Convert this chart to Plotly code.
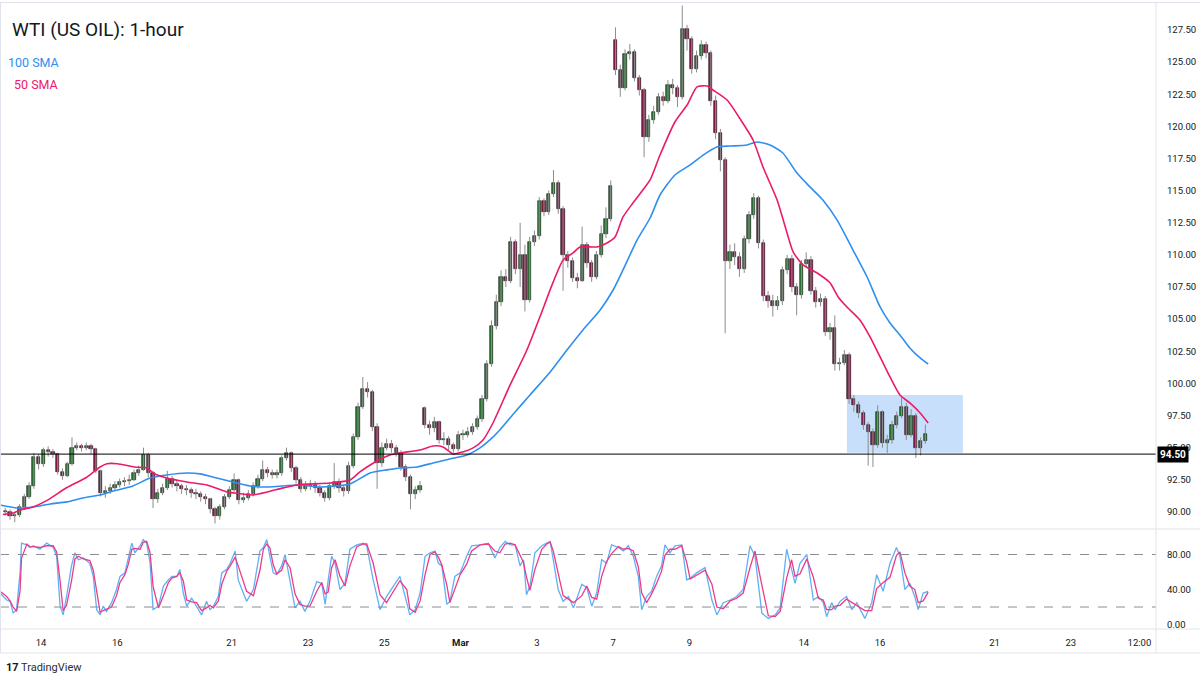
import plotly.graph_objects as go

# ---------------- DATA ----------------
# 3-hour candles, 8 per trading day; trading-day index: Feb 14 = 0, weekends removed
first_open = 90.1
gap_opens = {88: 98.1, 128: 126.7}  # weekend gap opens (Feb 28, Mar 7)

closes = [
    90.0, 89.7, 89.8, 90.4, 91.2, 92.0, 94.3, 93.7,          # Feb 11
    94.8, 94.7, 94.5, 93.1, 92.8, 93.7, 95.0, 95.1,          # Feb 14
    95.0, 95.1, 94.9, 93.2, 91.5, 91.6, 91.9, 92.1,          # Feb 15
    92.3, 92.4, 92.5, 93.0, 93.3, 94.4, 93.0, 91.0,          # Feb 16
    91.5, 91.9, 92.6, 92.2, 92.0, 91.8, 91.7, 91.5,          # Feb 17
    91.4, 91.2, 91.0, 90.2, 89.7, 90.4, 91.2, 91.7,          # Feb 18
    92.5, 90.9, 91.1, 91.4, 92.0, 92.6, 93.3, 93.0,          # Feb 21
    92.9, 93.0, 94.2, 94.6, 93.4, 92.5, 91.8, 92.0,          # Feb 22
    92.1, 91.9, 91.5, 91.1, 92.0, 92.3, 91.9, 91.6,          # Feb 23
    93.6, 95.8, 98.2, 99.6, 99.3, 96.6, 93.8, 95.0,          # Feb 24
    95.3, 95.0, 94.6, 93.5, 92.7, 91.4, 91.7, 92.0,          # Feb 25
    96.8, 96.5, 97.0, 95.6, 95.7, 95.2, 94.9, 96.0,          # Feb 28
    96.0, 96.2, 96.6, 97.2, 98.8, 101.5, 104.5, 106.3,       # Mar 1
    108.3, 108.0, 111.0, 108.9, 110.0, 106.5, 111.0, 111.5,  # Mar 2
    114.2, 113.3, 114.7, 115.6, 113.6, 110.0, 109.5, 108.2,  # Mar 3
    108.0, 110.8, 109.4, 108.3, 110.0, 111.6, 112.8, 115.4,  # Mar 4
    124.4, 123.0, 125.6, 125.8, 123.8, 122.8, 119.2, 120.5,  # Mar 7
    121.1, 122.3, 122.0, 123.2, 123.0, 122.3, 127.6, 126.8,  # Mar 8
    124.5, 125.5, 126.3, 125.7, 122.0, 119.5, 117.4, 109.5,  # Mar 9
    110.2, 109.8, 108.9, 111.2, 113.1, 114.4, 110.9, 106.8,  # Mar 10
    106.4, 106.0, 106.4, 108.8, 109.7, 107.5, 106.9, 109.3,  # Mar 11
    109.6, 107.2, 106.3, 106.6, 104.0, 104.3, 101.5, 101.6,  # Mar 14
    102.2, 98.8, 98.3, 97.7, 96.8, 96.2, 95.2, 97.8,         # Mar 15
    95.4, 95.6, 96.8, 97.5, 98.2, 96.0, 97.5, 95.0,          # Mar 16
    95.5, 96.1,                                              # Mar 17
]
highs = [
    90.3, 90.2, 90.0, 90.6, 91.4, 92.3, 94.6, 94.5,
    95.0, 95.1, 94.9, 94.6, 93.4, 93.9, 95.8, 95.4,
    95.3, 95.4, 95.3, 95.0, 93.3, 92.0, 92.2, 92.4,
    92.6, 92.7, 92.9, 93.3, 93.6, 95.0, 94.6, 93.2,
    91.8, 92.2, 93.2, 92.8, 92.5, 92.2, 92.1, 91.9,
    91.8, 91.6, 91.4, 91.1, 90.4, 90.6, 91.4, 92.0,
    93.0, 92.6, 91.5, 91.7, 92.3, 92.9, 94.0, 93.5,
    93.3, 93.3, 94.4, 95.0, 94.7, 93.6, 92.7, 92.4,
    92.5, 92.4, 92.1, 91.7, 92.3, 93.8, 92.6, 92.1,
    93.9, 96.1, 98.5, 100.5, 100.1, 99.5, 96.9, 95.4,
    95.7, 95.6, 95.2, 94.8, 93.7, 92.9, 92.0, 92.4,
    98.2, 97.1, 97.4, 97.1, 96.2, 95.9, 95.4, 96.3,
    96.4, 96.6, 96.9, 97.5, 99.1, 101.8, 104.9, 106.9,
    108.8, 108.9, 111.4, 111.2, 112.5, 110.8, 111.4, 111.9,
    114.5, 114.4, 115.0, 116.6, 115.8, 113.8, 110.3, 109.8,
    108.6, 112.2, 111.0, 109.6, 110.3, 112.3, 113.7, 115.8,
    127.7, 124.8, 126.0, 126.4, 126.0, 124.0, 123.0, 120.9,
    121.6, 122.6, 122.7, 123.6, 123.7, 123.2, 129.4, 127.9,
    127.0, 125.9, 126.7, 126.6, 125.9, 122.4, 119.8, 117.6,
    110.8, 110.9, 110.2, 111.5, 113.4, 114.8, 114.6, 111.2,
    107.2, 106.9, 106.8, 109.1, 110.0, 110.0, 107.8, 109.6,
    110.2, 109.9, 107.5, 107.0, 106.8, 104.7, 105.3, 102.0,
    102.6, 102.4, 99.1, 98.6, 97.9, 97.0, 96.5, 98.3,
    97.9, 96.0, 97.1, 97.8, 98.9, 98.5, 98.0, 97.7,
    95.8, 96.8,
]
lows = [
    89.7, 89.4, 89.2, 89.6, 90.2, 91.0, 91.8, 93.3,
    93.5, 94.3, 94.2, 92.9, 92.5, 92.7, 93.6, 94.8,
    94.7, 94.8, 94.5, 93.0, 91.2, 91.1, 91.4, 91.7,
    91.9, 92.0, 92.1, 92.4, 92.8, 93.2, 92.7, 90.3,
    90.7, 91.3, 91.7, 91.9, 91.6, 91.4, 91.3, 91.1,
    91.0, 90.8, 90.6, 89.9, 89.1, 89.4, 90.2, 91.0,
    91.5, 90.6, 90.7, 90.9, 91.2, 91.8, 92.4, 92.7,
    92.6, 92.6, 92.8, 94.0, 93.1, 92.2, 91.5, 91.6,
    91.7, 91.5, 91.2, 90.8, 90.9, 91.8, 91.5, 91.2,
    91.4, 93.4, 95.6, 98.0, 98.9, 96.3, 91.8, 93.5,
    94.8, 94.6, 94.3, 93.2, 92.4, 90.2, 91.0, 91.5,
    96.5, 96.0, 96.2, 95.3, 95.2, 94.8, 94.6, 94.7,
    95.6, 95.8, 96.0, 96.4, 97.0, 98.6, 101.3, 104.2,
    106.0, 107.5, 107.8, 108.5, 107.5, 105.6, 106.3, 110.7,
    111.2, 113.0, 113.1, 114.5, 113.2, 107.2, 109.0, 107.9,
    107.4, 107.9, 109.0, 107.9, 108.1, 109.8, 111.3, 112.6,
    124.0, 122.3, 122.8, 125.2, 123.5, 122.4, 117.6, 118.8,
    120.2, 120.9, 121.6, 121.8, 122.5, 121.5, 122.1, 125.9,
    124.1, 124.2, 125.2, 125.3, 121.6, 119.0, 116.5, 103.9,
    108.9, 109.2, 108.3, 108.6, 110.9, 112.8, 110.5, 106.4,
    105.9, 105.2, 105.7, 106.1, 108.5, 107.1, 105.3, 106.6,
    109.0, 106.9, 105.9, 106.0, 103.7, 103.4, 101.0, 101.0,
    101.4, 98.4, 97.8, 97.3, 96.4, 93.6, 93.5, 95.0,
    95.0, 94.6, 95.3, 96.5, 97.3, 95.6, 95.8, 94.2,
    94.4, 95.3,
]

sma50_t = [-1.00, -0.73, -0.55, -0.21, 0.16, 0.68, 1.20, 1.55, 1.73, 2.00, 2.45, 2.78, 2.94,
           3.30, 3.83, 4.35, 4.88, 5.03, 5.56, 5.93, 6.35, 6.71, 7.58, 8.10, 8.36, 8.76,
           9.15, 9.41, 9.94, 10.28, 10.54, 10.80, 11.06, 11.33, 11.59, 11.85, 12.03, 12.30,
           12.74, 13.08, 13.42, 13.69, 13.95, 14.13, 14.58, 14.84, 15.05, 15.26, 15.52,
           15.78, 15.97, 16.23, 16.62, 16.94, 17.20, 17.46, 17.62, 17.99, 18.33, 18.67,
           18.93, 19.30, 19.56, 19.72, 19.98, 20.35, 20.69, 20.90, 21.13, 21.47, 21.74,
           22.00, 22.26, 22.52, 22.78, 23.05, 23.26]
sma50_v = [89.80, 89.92, 90.15, 90.39, 90.90, 91.90, 92.70, 93.50, 93.75, 93.75, 93.50, 93.42, 93.03,
           92.64, 92.33, 92.10, 91.55, 91.48, 91.32, 91.55, 91.87, 92.10, 92.25, 92.49, 93.11, 93.89,
           94.43, 94.59, 94.82, 95.13, 95.06, 94.51, 94.67, 94.98, 95.60, 96.92, 98.09, 99.88,
           102.60, 105.17, 107.82, 109.61, 110.15, 110.62, 110.62, 110.93, 111.39, 112.95, 114.04,
           115.05, 115.83, 117.77, 120.34, 121.66, 123.07, 123.14, 122.83, 122.05, 120.58, 118.94,
           116.84, 114.27, 111.71, 110.23, 109.22, 108.59, 107.82, 106.73, 105.95, 104.94, 103.61,
           102.06, 100.50, 99.10, 98.48, 97.70, 96.92]

sma100_t = [-1.075, -0.63, -0.21, 0.24, 0.68, 1.10, 1.55, 1.81, 2.41, 2.86, 3.30, 3.83, 4.17,
            4.61, 5.03, 5.48, 5.93, 6.79, 7.32, 8.10, 8.63, 9.07, 9.41, 9.86, 10.28, 10.72,
            11.17, 11.51, 11.77, 12.03, 12.43, 12.82, 13.35, 13.79, 14.21, 14.66, 15.00, 15.26,
            15.63, 15.97, 16.23, 16.62, 17.02, 17.36, 17.72, 18.07, 18.51, 18.77, 19.11, 19.45,
            19.82, 20.16, 20.50, 20.87, 21.29, 21.66, 22.00, 22.26, 22.52, 22.78, 23.05, 23.26]
sma100_v = [90.54, 90.31, 90.39, 90.62, 90.78, 91.09, 91.32, 91.55, 92.02, 92.64, 92.88, 93.03, 92.96,
            92.64, 92.33, 92.02, 91.94, 92.10, 91.94, 92.18, 93.03, 93.27, 93.42, 93.50, 93.81, 94.12,
            94.43, 94.98, 95.60, 96.38, 97.78, 99.10, 100.89, 102.60, 104.16, 105.71, 107.27, 108.83,
            111.16, 112.87, 114.66, 116.22, 117.00, 117.77, 118.40, 118.47, 118.55, 118.79, 118.55, 117.93,
            116.37, 115.29, 114.27, 112.72, 110.38, 108.28, 105.95, 104.70, 103.77, 102.76, 101.98, 101.51]

stoch_t = [-1.075, -0.90, -0.81, -0.73, -0.64, -0.55, -0.51, -0.37, -0.29, -0.20, -0.03, 0.15, 0.32,
           0.41, 0.50, 0.58, 0.67, 0.80, 0.89, 0.98, 1.11, 1.28, 1.37, 1.46, 1.55, 1.63, 1.72, 1.85,
           1.98, 2.07, 2.20, 2.29, 2.38, 2.46, 2.60, 2.68, 2.77, 2.86, 2.94, 3.08, 3.21, 3.34, 3.43,
           3.56, 3.64, 3.73, 3.82, 3.95, 4.08, 4.21, 4.34, 4.43, 4.52, 4.65, 4.74, 4.87, 4.96, 5.09,
           5.17, 5.39, 5.57, 5.74, 5.83, 5.92, 6.00, 6.09, 6.18, 6.31, 6.40, 6.53, 6.66, 6.79, 6.92,
           7.05, 7.23, 7.36, 7.45, 7.53, 7.62, 7.71, 7.84, 7.97, 8.10, 8.28, 8.45, 8.54, 8.71, 8.89,
           9.06, 9.24, 9.41, 9.59, 9.67, 9.81, 9.94, 10.07, 10.20, 10.33, 10.42, 10.51, 10.64, 10.72,
           10.85, 10.99, 11.16, 11.29, 11.51, 11.73, 11.90, 12.03, 12.17, 12.30, 12.43, 12.56, 12.65,
           12.73, 12.82, 12.95, 13.13, 13.26, 13.35, 13.43, 13.56, 13.69, 13.83, 13.96, 14.18, 14.31,
           14.44, 14.57, 14.70, 14.83, 14.96, 15.14, 15.27, 15.40, 15.53, 15.66, 15.75, 15.88, 16.01,
           16.14, 16.27, 16.36, 16.49, 16.62, 16.80, 16.93, 17.02, 17.19, 17.41, 17.59, 17.72, 17.89,
           18.07, 18.24, 18.41, 18.59, 18.72, 18.90, 19.07, 19.25, 19.38, 19.55, 19.68, 19.77, 19.90,
           20.08, 20.25, 20.38, 20.51, 20.60, 20.73, 20.82, 20.95, 21.12, 21.26, 21.39, 21.60, 21.78,
           21.91, 22.08, 22.26, 22.43, 22.52, 22.65, 22.78, 22.91, 23.00, 23.13, 23.26]
stoch_k = [36, 28, 26.5, 13, 17, 59, 93, 91, 88, 90, 86, 93, 88,
           78, 21, 11, 32, 67, 82, 74, 76, 70, 55, 17, 11, 21, 15, 25,
           40, 55, 59, 78, 93, 82, 90, 97, 93, 70, 17, 21, 44, 51, 55,
           55, 63, 36, 21, 30, 21, 11, 26.5, 17, 21, 32, 59, 63, 70, 84,
           51, 26.5, 40, 84, 88, 97, 78, 59, 57, 67, 80, 51, 19, 26.5, 15,
           26.5, 49, 47, 23, 51, 78, 70, 40, 47, 86, 91, 93, 90, 51, 17,
           32, 44, 55, 25, 11, 17, 36, 78, 82, 84, 70, 67, 23, 26.5,
           55, 59, 78, 90, 91, 93, 76, 88, 95, 91, 91, 67, 74,
           34, 44, 82, 90, 93, 95, 74, 40, 26.5, 32, 19, 46, 42,
           21, 36, 74, 70, 91, 88, 84, 90, 78, 55, 17, 32, 38,
           55, 67, 91, 82, 90, 91, 51, 53, 59, 65, 28, 11, 25,
           28, 32, 40, 90, 78, 13, 7, 11, 19, 86, 63, 47, 70,
           80, 28, 32, 25, 9, 25, 17, 26.5, 32, 17, 25, 7, 25,
           57, 38, 70, 88, 78, 40, 47, 32, 17, 36, 38]
stoch_d = [38, 32, 27, 20, 15, 38, 76, 92, 89, 89, 88, 90, 90,
           83, 50, 16, 22, 50, 75, 78, 75, 73, 62, 36, 14, 16, 18, 20,
           33, 48, 57, 69, 86, 87, 86, 94, 95, 82, 43, 19, 33, 48, 53,
           55, 59, 50, 28, 26, 25, 16, 19, 22, 19, 27, 46, 61, 67, 77,
           67, 38, 33, 62, 86, 92, 88, 68, 58, 62, 74, 65, 35, 23, 21,
           21, 38, 48, 35, 37, 65, 74, 55, 44, 67, 89, 92, 92, 70, 34,
           25, 38, 50, 40, 18, 14, 27, 57, 80, 83, 77, 68, 45, 25,
           41, 57, 69, 84, 91, 92, 84, 82, 92, 93, 91, 79, 71,
           54, 39, 63, 86, 92, 94, 84, 57, 33, 29, 25, 33, 44,
           31, 29, 55, 72, 81, 89, 86, 87, 84, 66, 36, 25, 35,
           47, 61, 79, 86, 86, 90, 71, 52, 56, 62, 46, 20, 18,
           27, 30, 36, 65, 84, 45, 10, 9, 15, 53, 74, 55, 58,
           75, 54, 30, 28, 17, 17, 21, 22, 29, 25, 21, 16, 16,
           41, 48, 54, 79, 83, 59, 44, 40, 25, 27, 37]

price_ticks = [90.0, 92.5, 95.0, 97.5, 100.0, 102.5, 105.0, 107.5, 110.0, 112.5,
               115.0, 117.5, 120.0, 122.5, 125.0, 127.5]
stoch_ticks = [0, 40, 80]
x_tick_days = [0, 2, 5, 7, 9, 11, 13, 15, 17, 20, 22, 25, 27, 28.8]
x_tick_text = ["14", "16", "21", "23", "25", "<b>Mar</b>", "3", "7", "9", "14", "16", "21", "23", "12:00"]

level = 94.50
zone = dict(t0=21.13, t1=24.17, lo=94.6, hi=99.1)
stoch_levels = [80, 20]

# ---------------- BUILD ----------------
n = len(closes)
per_day = 8
xs = [-1 + (i + 0.5) / per_day for i in range(n)]
opens = []
for i in range(n):
    if i in gap_opens:
        opens.append(gap_opens[i])
    elif i == 0:
        opens.append(first_open)
    else:
        opens.append(closes[i - 1])

UP = "#2b7a35"
DN = "#8e1b4c"
FONT = "Roboto"
TXT = "#131722"
GRID = "#e0e3eb"

fig = go.Figure()

wx, wy = [], []
for x, h, l in zip(xs, highs, lows):
    wx += [x, x, None]
    wy += [l, h, None]
fig.add_trace(go.Scatter(x=wx, y=wy, mode="lines", line=dict(color="#8c8c8c", width=1),
                         hoverinfo="skip", showlegend=False, xaxis="x", yaxis="y"))

body_h = [max(abs(c - o), 0.06) for o, c in zip(opens, closes)]
body_b = [min(o, c) for o, c in zip(opens, closes)]
body_c = [UP if c >= o else DN for o, c in zip(opens, closes)]
fig.add_trace(go.Bar(x=xs, y=body_h, base=body_b, width=0.085,
                     marker=dict(color=body_c, line=dict(color="#111111", width=0.6)),
                     showlegend=False, xaxis="x", yaxis="y"))

fig.add_trace(go.Scatter(x=sma100_t, y=sma100_v, mode="lines",
                         line=dict(color="#2f8ff0", width=1.6, shape="spline", smoothing=0.6),
                         showlegend=False, xaxis="x", yaxis="y"))
fig.add_trace(go.Scatter(x=sma50_t, y=sma50_v, mode="lines",
                         line=dict(color="#ec1a6a", width=1.6, shape="spline", smoothing=0.6),
                         showlegend=False, xaxis="x", yaxis="y"))

fig.add_trace(go.Scatter(x=stoch_t, y=stoch_k, mode="lines",
                         line=dict(color="#5fb0f7", width=1.3),
                         showlegend=False, xaxis="x2", yaxis="y2"))
fig.add_trace(go.Scatter(x=stoch_t, y=stoch_d, mode="lines",
                         line=dict(color="#ef3a86", width=1.3),
                         showlegend=False, xaxis="x2", yaxis="y2"))

XR = [-1.075, 29.234]
XD = [0, 1156 / 1200]

shapes = [
    dict(type="rect", xref="x", yref="y", x0=zone["t0"], x1=zone["t1"], y0=zone["lo"], y1=zone["hi"],
         fillcolor="rgba(70,150,240,0.30)", line=dict(width=0), layer="below"),
    dict(type="line", xref="paper", yref="y", x0=0, x1=XD[1], y0=level, y1=level,
         line=dict(color="#000000", width=1)),
]
for lv in stoch_levels:
    shapes.append(dict(type="line", xref="paper", yref="y2", x0=0, x1=XD[1], y0=lv, y1=lv,
                       line=dict(color="#8a8d96", width=1, dash="dash")))
for yy in [1 - 2.5 / 675, 1 - 529 / 675, 1 - 629 / 675, 1 - 653 / 675]:
    shapes.append(dict(type="line", xref="paper", yref="paper", x0=0, x1=1, y0=yy, y1=yy,
                       line=dict(color=GRID, width=1)))
shapes.append(dict(type="line", xref="paper", yref="paper", x0=XD[1], x1=XD[1],
                   y0=1 - 653 / 675, y1=1 - 2.5 / 675, line=dict(color=GRID, width=1)))
shapes.append(dict(type="line", xref="paper", yref="paper", x0=0.5 / 1200, x1=0.5 / 1200,
                   y0=1 - 653 / 675, y1=1 - 2.5 / 675, line=dict(color=GRID, width=1)))

annotations = [
    dict(xref="paper", yref="paper", x=10 / 1200, y=1 - 30 / 675, xanchor="left", yanchor="middle",
         text="WTI (US OIL): 1-hour", showarrow=False, font=dict(family=FONT, size=19, color=TXT)),
    dict(xref="paper", yref="paper", x=6 / 1200, y=1 - 62 / 675, xanchor="left", yanchor="middle",
         text="100 SMA", showarrow=False, font=dict(family=FONT, size=12.5, color="#2f8ff0")),
    dict(xref="paper", yref="paper", x=12 / 1200, y=1 - 84 / 675, xanchor="left", yanchor="middle",
         text="50 SMA", showarrow=False, font=dict(family=FONT, size=12.5, color="#ec1a6a")),
    dict(xref="paper", yref="y", x=1157 / 1200, y=level, xanchor="left", yanchor="middle",
         text="<b>%.2f</b>" % level, showarrow=False, bgcolor="#000000", borderpad=2,
         font=dict(family=FONT, size=10, color="#ffffff")),
    dict(xref="paper", yref="paper", x=4 / 1200, y=1 - 667 / 675, xanchor="left", yanchor="middle",
         text="<b>17</b>", showarrow=False, font=dict(family=FONT, size=11, color=TXT)),
    dict(xref="paper", yref="paper", x=19 / 1200, y=1 - 667 / 675, xanchor="left", yanchor="middle",
         text="TradingView", showarrow=False, font=dict(family=FONT, size=11, color="#2a2e39")),
]

fig.update_layout(
    width=1200, height=675, margin=dict(l=0, r=0, t=0, b=0),
    paper_bgcolor="#ffffff", plot_bgcolor="#ffffff",
    showlegend=False, bargap=0, shapes=shapes, annotations=annotations,
    font=dict(family=FONT, color=TXT),
    xaxis=dict(domain=XD, range=XR, anchor="y", showticklabels=False, showgrid=False,
               zeroline=False, showline=False, ticks=""),
    xaxis2=dict(domain=XD, range=XR, anchor="y2", matches="x", showgrid=False, zeroline=False,
                showline=False, tickmode="array", tickvals=x_tick_days, ticktext=x_tick_text,
                ticks="", ticklabelstandoff=6, tickfont=dict(family=FONT, size=9.5, color=TXT)),
    yaxis=dict(domain=[1 - 528 / 675, 1 - 3 / 675], range=[88.75, 129.6], side="right", anchor="x",
               showgrid=False, zeroline=False, showline=False, tickmode="array", tickvals=price_ticks,
               ticktext=["%.2f" % v for v in price_ticks], ticks="", ticklabelstandoff=10,
               tickfont=dict(family=FONT, size=9.5, color=TXT)),
    yaxis2=dict(domain=[1 - 629 / 675, 1 - 530 / 675], range=[-5.1, 108], side="right", anchor="x2",
                showgrid=False, zeroline=False, showline=False, tickmode="array", tickvals=stoch_ticks,
                ticktext=["%.2f" % v for v in stoch_ticks], ticks="", ticklabelstandoff=10,
                tickfont=dict(family=FONT, size=9.5, color=TXT)),
)

fig.write_html("out.html")
